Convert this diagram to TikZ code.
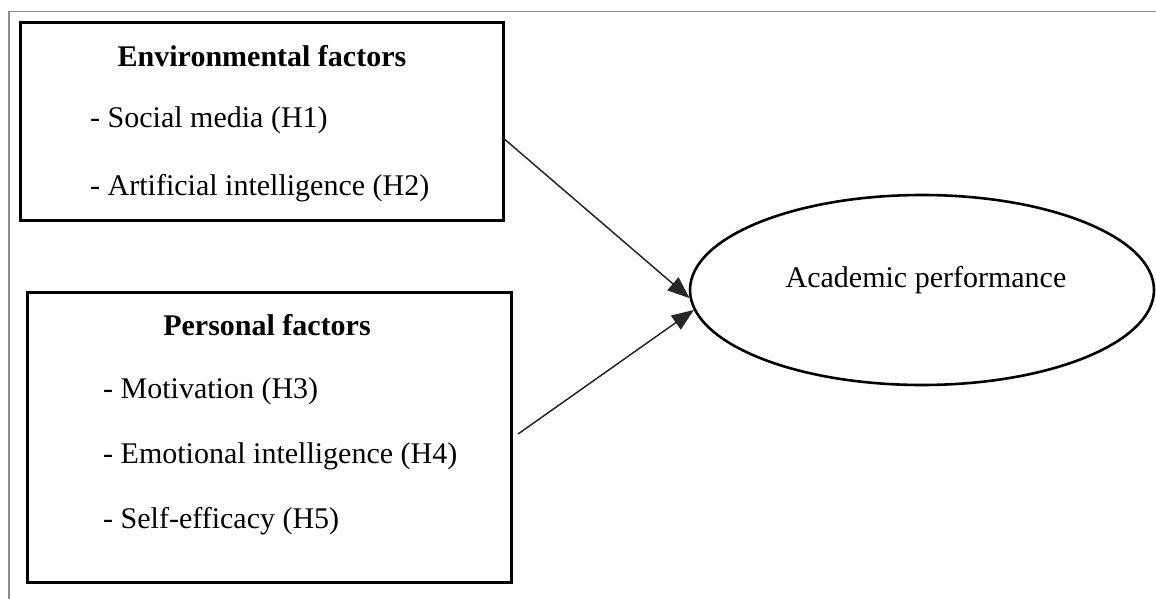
\documentclass[tikz,border=0pt]{standalone}
\usepackage{fontspec}
\setmainfont{Liberation Serif}
\usetikzlibrary{arrows.meta,shapes.geometric}
\begin{document}
\begin{tikzpicture}[x=1pt,y=-1pt,
  factorbox/.style={draw=black,line width=3pt,minimum width=#1,inner sep=0pt},
  txt/.style={anchor=base west,inner sep=0pt,font=\fontsize{30}{36}\selectfont},
  ttl/.style={anchor=base,inner sep=0pt,font=\fontsize{30}{36}\selectfont\bfseries},
  link/.style={draw=black!85,line width=1.5pt,-{Triangle[length=22pt,width=17pt]}},
  frame/.style={draw=black!45,line width=1.8pt}]
\useasboundingbox (0,0) rectangle (1156,599);
% outer frame
\draw[frame] (1160,11.5) -- (9,11.5) -- (9,603);
% boxes
\node[factorbox=482.5pt,minimum height=197.3pt] (env) at (261.75,121.35) {};
\node[factorbox=484pt,minimum height=290pt] (pers) at (269,437) {};
% box texts
\node[ttl] (envt) at (262,67) {Environmental factors};
\node[txt] (env1) at (90,128) {- Social media (H1)};
\node[txt] (env2) at (90,195) {- Artificial intelligence (H2)};
\node[ttl] (perst) at (267,335) {Personal factors};
\node[txt] (pers1) at (103,398) {- Motivation (H3)};
\node[txt] (pers2) at (103,463) {- Emotional intelligence (H4)};
\node[txt] (pers3) at (103,528) {- Self-efficacy (H5)};
% outcome
\node[draw=black,line width=2.6pt,ellipse,minimum width=464pt,minimum height=190pt,inner sep=0pt] (ap) at (922,290) {};
\node[anchor=base,inner sep=0pt,font=\fontsize{30}{36}\selectfont] (apt) at (926,287) {Academic performance};
% connectors
\coordinate (s1) at (502,137);
\coordinate (s2) at (518,434);
\draw[link] (s1) -- (ap.182);
\draw[link] (s2) -- (ap.185);
\end{tikzpicture}
\end{document}
